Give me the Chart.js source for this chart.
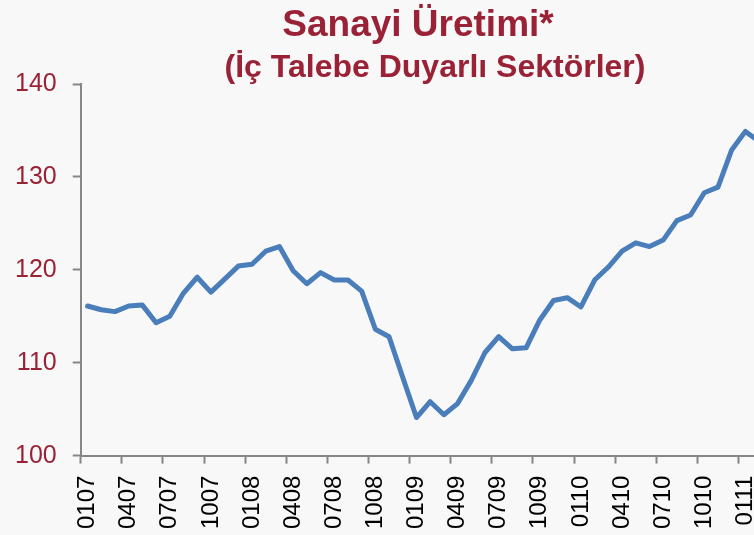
<!DOCTYPE html>
<html>
<head>
<meta charset="utf-8">
<script src="https://cdn.jsdelivr.net/npm/chart.js"></script>
<style>
  html, body { margin: 0; padding: 0; overflow: hidden; background: #f8f8f8; }
  #wrap { position: relative; width: 754px; height: 535px; overflow: hidden; }
  .ttl { position: absolute; transform: translateX(-50%); white-space: nowrap;
         font-family: "Liberation Sans", Arial, sans-serif; font-weight: bold;
         color: #9a2236; line-height: 1; }
  #t1 { left: 418px; top: 5px; font-size: 37px; }
  #t2 { left: 435px; top: 50px; font-size: 32px; }
  canvas { position: absolute; left: -1px; top: 0; }
</style>
</head>
<body>
<div id="wrap">
  <canvas id="myChart" width="801" height="545"></canvas>
  <div class="ttl" id="t1">Sanayi Üretimi*</div>
  <div class="ttl" id="t2">(İç Talebe Duyarlı Sektörler)</div>
</div>
<script>
// monthly index, 01/07 .. 02/11 (MMYY)
const months = [
  '0107','0207','0307','0407','0507','0607','0707','0807','0907','1007','1107','1207',
  '0108','0208','0308','0408','0508','0608','0708','0808','0908','1008','1108','1208',
  '0109','0209','0309','0409','0509','0609','0709','0809','0909','1009','1109','1209',
  '0110','0210','0310','0410','0510','0610','0710','0810','0910','1010','1110','1210',
  '0111','0211'
];
const production = [
  116.1, 115.7, 115.5, 116.1, 116.2, 114.3, 115.0, 117.5, 119.2, 117.6, 119.0, 120.4,
  120.6, 122.0, 122.5, 119.9, 118.5, 119.7, 118.9, 118.9, 117.7, 113.6, 112.8, 108.4,
  104.1, 105.8, 104.4, 105.6, 108.1, 111.1, 112.8, 111.5, 111.6, 114.6, 116.7, 117.0,
  116.0, 118.9, 120.3, 122.0, 122.9, 122.5, 123.2, 125.3, 125.9, 128.3, 128.9, 132.9,
  134.9, 133.8
];
const yTicks = [100, 110, 120, 130, 140];

const axisGray = '#868686';
const darkRed = '#9a2236';

window.addEventListener('load', setup);

function setup() {
    const ctx = document.getElementById('myChart').getContext('2d');
    new Chart(ctx, {
        type: 'line',
        data: {
            labels: months,
            datasets: [{
                label: 'Sanayi Üretimi',
                data: production,
                borderColor: '#4a7ebb',
                borderWidth: 5,
                borderJoinStyle: 'round',
                borderCapStyle: 'round',
                pointRadius: 0,
                tension: 0,
                fill: false
            }]
        },
        options: {
            responsive: false,
            animation: false,
            layout: { padding: { left: 0, right: 10, top: 84, bottom: 4 } },
            plugins: {
                legend: { display: false },
                tooltip: { enabled: false }
            },
            scales: {
                x: {
                    offset: true,
                    grid: {
                        offset: true,
                        drawOnChartArea: false,
                        tickLength: 8,
                        tickWidth: 2,
                        tickColor: c => (c.index % 3 === 0 ? axisGray : 'rgba(0,0,0,0)')
                    },
                    border: { color: axisGray, width: 2 },
                    ticks: {
                        autoSkip: false,
                        minRotation: 90,
                        maxRotation: 90,
                        padding: 12,
                        color: '#000',
                        font: { family: 'Liberation Sans', size: 24 },
                        callback: function (val, idx) {
                            return idx % 3 === 0 ? this.getLabelForValue(val) : '';
                        }
                    }
                },
                y: {
                    min: yTicks[0],
                    max: yTicks[yTicks.length - 1],
                    afterBuildTicks: axis => { axis.ticks = yTicks.map(v => ({ value: v })); },
                    grid: {
                        drawOnChartArea: false,
                        tickLength: 8,
                        tickWidth: 2,
                        tickColor: axisGray
                    },
                    border: { color: axisGray, width: 2 },
                    ticks: {
                        padding: 16,
                        color: darkRed,
                        font: { family: 'Liberation Sans', size: 25 }
                    }
                }
            }
        }
    });
}
</script>
</body>
</html>
